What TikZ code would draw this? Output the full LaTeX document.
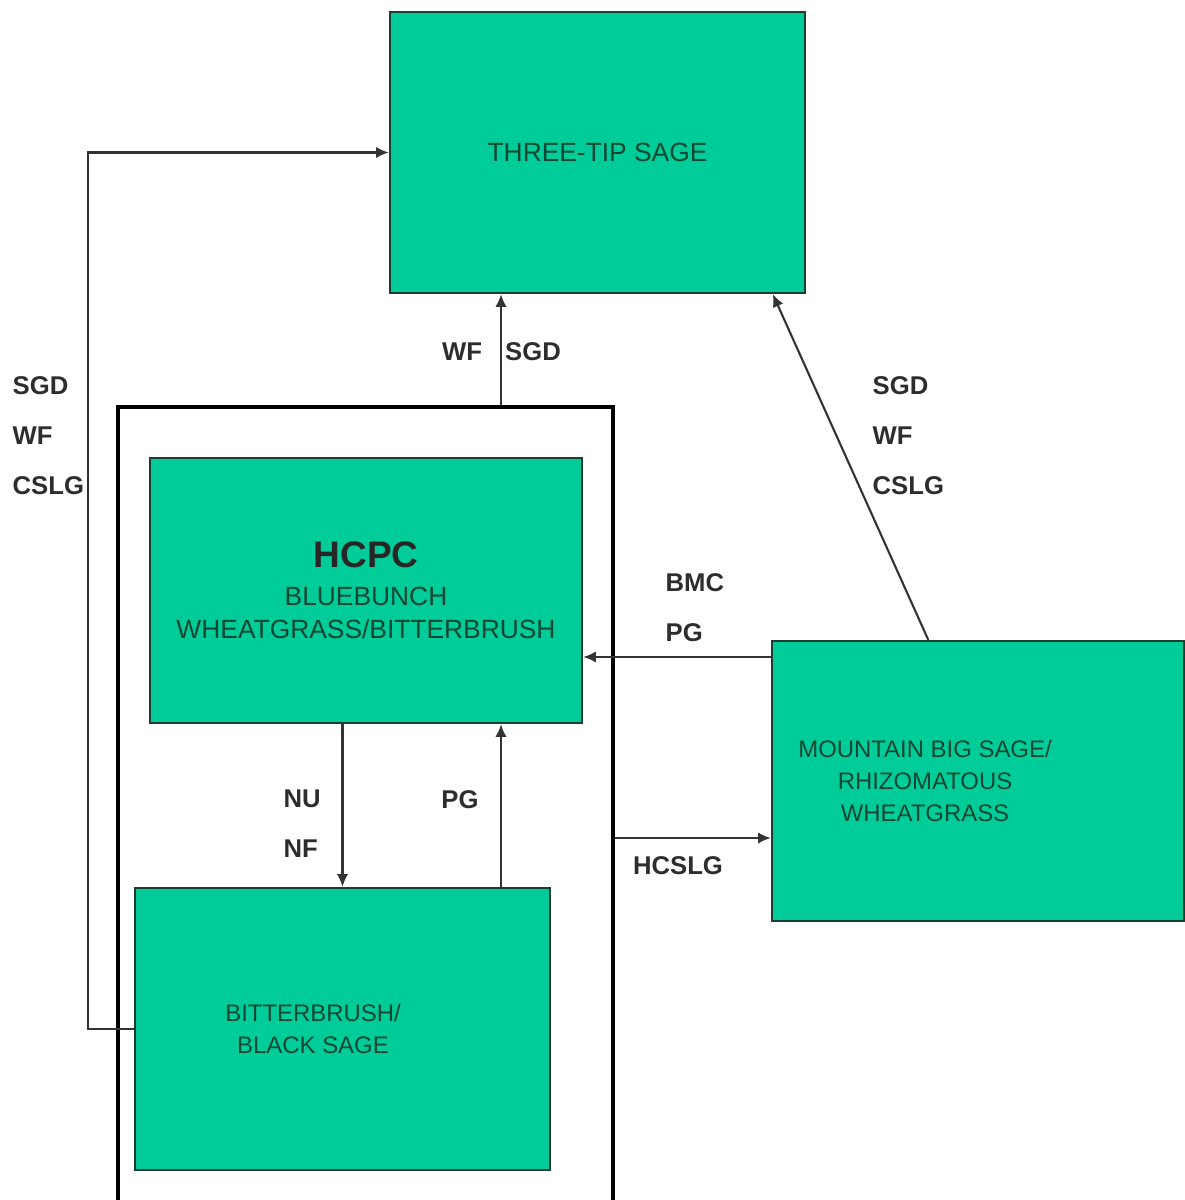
\documentclass[tikz,border=0pt]{standalone}
\usepackage{fontspec}
\setmainfont{Liberation Sans}
\usetikzlibrary{arrows.meta,positioning,calc}
\definecolor{sagegreen}{RGB}{0,204,153}
\definecolor{sagetext}{RGB}{16,70,50}
\definecolor{sageedge}{RGB}{28,62,48}
\definecolor{lblgray}{RGB}{45,45,45}
\tikzset{
  state/.style={draw=sageedge, line width=0.6pt, fill=sagegreen, inner sep=0pt},
  boxtxt/.style={text=sagetext, align=center, inner sep=0pt, font=\fontsize{7.5}{9.3}\selectfont},
  smalltxt/.style={boxtxt, font=\fontsize{6.8}{9.1}\selectfont},
  frm/.style={draw=black, line width=1.2pt, inner sep=0pt},
  trans/.style={-{Latex[length=3.6pt,width=3.2pt]}, line width=0.6pt, black!80},
  lbl/.style={text=lblgray, align=left, inner sep=0pt, font=\bfseries\fontsize{7.3}{14.2}\selectfont},
}

\begin{document}
\begin{tikzpicture}[x=0.01cm, y=-0.01cm]
  \useasboundingbox (0,0) rectangle (1184,1200);

  % outer frame round the two lower states
  \node[frm, minimum width=4.95cm, minimum height=8.16cm] (frame) at (365.5,815) {};

  % states
  \node[state, minimum width=4.15cm, minimum height=2.81cm, boxtxt] (three) at (597.5,152.5) {THREE-TIP SAGE};
  \node[state, minimum width=4.32cm, minimum height=2.65cm, boxtxt] (hcpc) at (366,590.5)
    {{\color{black!85}\bfseries\fontsize{10.5}{11}\selectfont HCPC}\\[1.5pt]BLUEBUNCH\\WHEATGRASS/BITTERBRUSH};
  \node[state, minimum width=4.15cm, minimum height=2.82cm] (bitter) at (342.5,1029) {};
  \node[smalltxt] (bittertxt) at (313,1029) {BITTERBRUSH/\\BLACK SAGE};
  \node[state, minimum width=4.12cm, minimum height=2.80cm] (mount) at (978,781) {};
  \node[smalltxt] (mounttxt) at (925,781) {MOUNTAIN BIG SAGE/\\RHIZOMATOUS\\WHEATGRASS};

  % helper coordinates
  \coordinate (loopx) at (88,0);
  \coordinate (upx) at (501,0);
  \coordinate (bmcy) at (0,657);
  \coordinate (hcy) at (0,838);

  % transitions
  \draw[trans] (bitter.west) -- (bitter.west -| loopx) |- (three.west);
  \draw[trans] (frame.north -| upx) -- (three.south -| upx);
  \draw[trans] ($(mount.north west)!0.38!(mount.north east)$) -- ($(three.south west)!0.92!(three.south east)$);
  \draw[trans] (mount.west |- bmcy) -- (hcpc.east |- bmcy);
  \draw[trans] (frame.east |- hcy) -- (mount.west |- hcy);
  \draw[trans] (hcpc.south -| bitter.north) -- (bitter.north);
  \draw[trans] (bitter.north -| upx) -- (hcpc.south -| upx);

  % labels
  \node[lbl, anchor=west] (lblleft) at (12,436) {SGD\\WF\\CSLG};
  \node[lbl, anchor=west] (lblmount) at (872,436) {SGD\\WF\\CSLG};
  \node[lbl] (lblwf) at (462,352) {WF};
  \node[lbl] (lblsgd) at (533,352) {SGD};
  \node[lbl, anchor=west] (lblbmc) at (665,608) {BMC\\PG};
  \node[lbl, anchor=west] (lblnu) at (283,824) {NU\\NF};
  \node[lbl] (lblpg) at (460,800) {PG};
  \node[lbl] (lblhcslg) at (678,866) {HCSLG};
\end{tikzpicture}
\end{document}
